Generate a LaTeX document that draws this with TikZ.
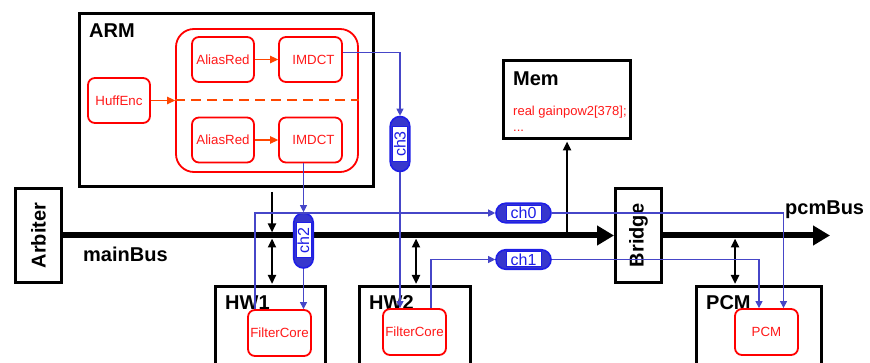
\documentclass[tikz,border=0pt]{standalone}
\usepackage{fontspec}
\setmainfont{Liberation Sans}
\usetikzlibrary{arrows.meta,calc,shapes.misc}
\definecolor{rd}{RGB}{255,0,0}
\definecolor{rdtext}{RGB}{255,25,25}
\definecolor{orng}{RGB}{255,70,0}
\definecolor{bl}{RGB}{30,30,230}
\definecolor{blfill}{RGB}{55,55,205}
\definecolor{blline}{RGB}{70,70,200}
\begin{document}
\begin{tikzpicture}[x=1pt,y=-1pt,
  blackbox/.style={draw=black, line width=3pt, fill=white, inner sep=0pt},
  lbl/.style={font=\fontsize{20}{24}\selectfont\bfseries, inner sep=0pt},
  redbox/.style={draw=rd, line width=1.8pt, fill=white, rounded corners=7pt, text=rdtext,
    font=\fontsize{13.3}{15}\selectfont, minimum width=62pt, minimum height=45pt, inner sep=0pt},
  redtxt/.style={text=rdtext, font=\fontsize{13}{15}\selectfont, inner sep=0pt, anchor=base west},
  bus/.style={line width=6pt},
  busarrow/.style={bus, -{Triangle[length=17pt,width=19pt]}},
  blk/.style={line width=2.6pt, -{Triangle[length=9pt,width=8pt]}},
  dblk/.style={line width=2.6pt, {Triangle[length=9pt,width=8pt]}-{Triangle[length=9pt,width=8pt]}},
  bline/.style={draw=blline, line width=1.1pt, -{Triangle[length=7pt,width=7pt]}},
  ora/.style={draw=orng, line width=1.3pt, -{Triangle[length=8pt,width=7.5pt]}},
  capsule/.style={rounded rectangle, draw=bl, fill=blfill, line width=1.6pt,
    minimum width=55pt, minimum height=19.5pt, inner sep=0pt},
  chtext/.style={draw=bl, fill=white, line width=1pt, minimum width=35pt, minimum height=15pt,
    inner sep=0pt, text=bl, font=\fontsize{16}{18}\selectfont}
]
\useasboundingbox (0,0) rectangle (870,363);
\clip (0,0) rectangle (870,363);

% black boxes
\node[blackbox, minimum width=294pt, minimum height=173pt] (arm) at (226.5,100) {};
\node[blackbox, minimum width=127pt, minimum height=78pt] (mem) at (567,99.5) {};
\node[blackbox, minimum width=46pt, minimum height=94pt] (arb) at (38.5,235.5) {};
\node[blackbox, minimum width=46pt, minimum height=94pt] (bridge) at (638.5,235.5) {};
\node[blackbox, minimum width=110pt, minimum height=120pt, anchor=north] (hw1) at (270.5,285.5) {};
\node[blackbox, minimum width=111pt, minimum height=120pt, anchor=north] (hw2) at (415,285.5) {};
\node[blackbox, minimum width=125pt, minimum height=120pt, anchor=north] (pcm) at (759,285.5) {};

% labels
\node[lbl, anchor=base west] (armlbl) at (89,38) {ARM};
\node[lbl, anchor=base west] (memlbl) at (513,86) {Mem};
\node[lbl, anchor=base west] (hw1lbl) at (225,309) {HW1};
\node[lbl, anchor=base west] (hw2lbl) at (369,309) {HW2};
\node[lbl, anchor=base west] (pcmlbl) at (706,309) {PCM};
\node[lbl, anchor=base west] (mainbuslbl) at (83,262) {mainBus};
\node[lbl, anchor=base west] (pcmbuslbl) at (785,215) {pcmBus};
\node[lbl, rotate=90] (arblbl) at (arb) {Arbiter};
\node[lbl, rotate=90] (brlbl) at (bridge) {Bridge};

\node[redtxt] (memtxt) at (513,116) {real gainpow2[378];};
\node[redtxt] (memdots) at (513,132) {...};

% buses
\coordinate (pend) at (830,235.5);
\draw[busarrow] (arb.east) -- (bridge.west);
\draw[busarrow] (bridge.east) -- (pend);

% black connectors
\coordinate (b1) at (272,235.5);
\coordinate (b2) at (416,235.5);
\coordinate (b3) at (567,235.5);
\coordinate (b4) at (735,235.5);
\draw[blk] ([yshift=-4pt]arm.south -| b1) -- ([yshift=3pt]b1);
\draw[dblk, shorten >=1.5pt] ([yshift=-3pt]b1) -- (hw1.north -| b1);
\draw[dblk, shorten >=1.5pt] ([yshift=-3pt]b2) -- (hw2.north -| b2);
\draw[blk, shorten >=1.5pt] (b3) -- (mem.south);
\draw[dblk, shorten >=1.5pt] ([yshift=-3pt]b4) -- (pcm.north -| b4);

% red processes
\node[redbox, minimum width=182pt, minimum height=143pt, rounded corners=18pt] (grp) at (267,100.5) {};
\node[redbox] (huff) at (119,100.5) {HuffEnc};
\node[redbox] (ar1) at (223,59.5) {AliasRed};
\node[redbox, minimum width=63pt] (im1) at (310.5,59.5) {\hspace{6pt}IMDCT};
\node[redbox] (ar2) at (223,140) {AliasRed};
\node[redbox, minimum width=63pt] (im2) at (310.5,140) {\hspace{6pt}IMDCT};
\draw[orng, line width=2pt, dash pattern=on 10pt off 6pt] (grp.west) -- (grp.east);
\draw[ora] (huff) -- (grp.west);
\draw[ora] (ar1) -- (im1);
\draw[ora] (ar2) -- (im2);

\node[redbox, minimum width=63pt, minimum height=46pt] (fc1) at (279.5,333) {FilterCore};
\node[redbox, minimum width=63pt, minimum height=46pt] (fc2) at (414.5,332) {FilterCore};
\node[redbox, minimum width=63pt, minimum height=46pt] (pcmc) at (766.5,332) {PCM};

% channels
\node[capsule] (ch0) at (523.5,213) {};
\node[chtext] (ch0t) at (ch0) {ch0};
\node[capsule] (ch1) at (523.5,259.5) {};
\node[chtext] (ch1t) at (ch1) {ch1};
\node[capsule, rotate=90] (ch2) at (303.5,240.5) {};
\node[chtext, rotate=90] (ch2t) at (ch2) {ch2};
\node[capsule, rotate=90] (ch3) at (400,144) {};
\node[chtext, rotate=90] (ch3t) at (ch3) {ch3};

% blue connectors
\draw[bline] ([yshift=7pt]im1.east) -| (ch3.east);
\draw[bline] (ch3.west) -- (ch3.west |- fc2.north);
\draw[bline] (im2.south -| ch2.east) -- (ch2.east);
\draw[bline] (ch2.west) -- (ch2.west |- fc1.north);
\draw[bline] ([xshift=-24.5pt]fc1.north) |- (ch0.west);
\draw[bline] (ch0.east) -| ([xshift=17pt]pcmc.north);
\draw[bline] ([xshift=16.5pt]fc2.north) |- (ch1.west);
\draw[bline] (ch1.east) -| ([xshift=-7.5pt]pcmc.north);
\end{tikzpicture}
\end{document}
